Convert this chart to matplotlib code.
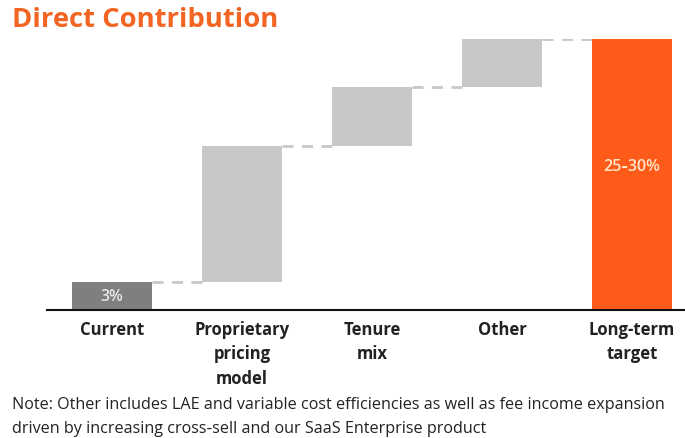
import numpy as np
import matplotlib
matplotlib.use("Agg")
import matplotlib.pyplot as plt

plt.rcParams['font.family'] = ['Open Sans', 'DejaVu Sans']

# waterfall data (percentage points)
categories = ['Current', 'Proprietary\npricing\nmodel', 'Tenure\nmix', 'Other', 'Long-term\ntarget']
steps = [3.0, 14.6, 6.3, 5.1]      # current level, then increments
target = 29.0                      # drawn as midpoint of 25-30%
bar_labels = ['3%', '25\u201130%']

ORANGE = '#fe5a1a'
GREY_DARK = '#7f7f7f'
GREY_LIGHT = '#c8c8c8'

fig = plt.figure(figsize=(6.85, 4.39), dpi=100)
ax = fig.add_axes([47 / 685, (439 - 311) / 439, (685 - 47) / 685, 271 / 439])

x = np.arange(len(categories))
w = 0.61

# bottoms / heights
tops = np.cumsum(steps)
bottoms = np.concatenate([[0], tops[:-1]])
colors = [GREY_DARK] + [GREY_LIGHT] * (len(steps) - 1)
ax.bar(x[:len(steps)], steps, bottom=bottoms, width=w, color=colors, zorder=2)
ax.bar(x[-1], target, width=w, color=ORANGE, zorder=2)

# dashed connectors
levels = list(tops)
for i, lvl in enumerate(levels):
    ax.plot([x[i] + w / 2, x[i + 1] - w / 2], [lvl, lvl], color=GREY_LIGHT,
            lw=2, dashes=(4, 3), zorder=1)

ax.text(x[0], steps[0] / 2, bar_labels[0], ha='center', va='center',
        color='#e6e6e6', fontsize=11.5, fontweight='semibold')
ax.text(x[-1], target - 13.6, bar_labels[1], ha='center', va='center',
        color='#ffe6c8', fontsize=11.5, fontweight='semibold')

ax.set_xlim(-0.5, (685 - 112) / 130)
ax.set_ylim(0, target)
for s in ['top', 'right', 'left']:
    ax.spines[s].set_visible(False)
ax.spines['bottom'].set_linewidth(1.5)
ax.spines['bottom'].set_color('#111111')
ax.set_yticks([])
ax.set_xticks(x)
ax.set_xticklabels(categories, fontsize=12, fontweight='bold', color='#222222',
                   linespacing=1.46, va='top')
ax.tick_params(axis='x', length=0, pad=7)

fig.text(12 / 685, 1 - 20 / 439, 'Direct Contribution', fontsize=19.7,
         fontweight='bold', color='#f26522', va='center', ha='left')
fig.text(12 / 685, 1 - 405 / 439,
         'Note: Other includes LAE and variable cost efficiencies as well as fee income expansion',
         fontsize=11.6, color='#222222', va='center', ha='left')
fig.text(12 / 685, 1 - 429 / 439,
         'driven by increasing cross\u2011sell and our SaaS Enterprise product',
         fontsize=11.6, color='#222222', va='center', ha='left')

fig.savefig('out.png', dpi=100)
